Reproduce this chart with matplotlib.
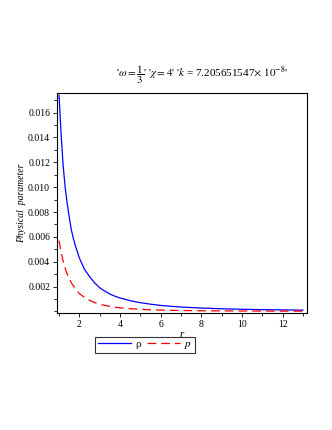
import matplotlib
matplotlib.use("Agg")
import matplotlib.pyplot as plt
from matplotlib.ticker import MultipleLocator

plt.rcParams['font.family'] = ['Liberation Serif', 'DejaVu Serif']
plt.rcParams['mathtext.fontset'] = 'stix'

# values
r = [1, 1.1, 1.2, 1.3, 1.4, 1.5, 1.6, 1.7, 1.8, 1.9, 2, 2.25, 2.5, 2.75, 3,
     3.25, 3.5, 3.75, 4, 4.5, 5, 5.5, 6, 6.5, 7, 8, 9, 10, 11, 12, 13]
rho = [0.0174, 0.0143, 0.0118, 0.0100, 0.0087, 0.0076, 0.0066, 0.0059,
       0.0053, 0.0048, 0.0043, 0.0034, 0.0028, 0.0023, 0.0019, 0.00163,
       0.0014, 0.00122, 0.00108, 0.00086, 0.0007, 0.00058, 0.00048, 0.00041,
       0.00035, 0.00027, 0.00021, 0.00017, 0.00014, 0.00012, 0.0001]
p = [0.0057, 0.00478, 0.00406, 0.00348, 0.00301, 0.00264, 0.00231, 0.00207,
     0.00186, 0.00163, 0.00143, 0.00113, 0.00089, 0.00071, 0.00058, 0.00048,
     0.0004, 0.00034, 0.00029, 0.00022, 0.00017, 0.00013, 0.0001, 0.000085,
     0.00007, 0.00005, 0.00004, 0.00003, 0.000025, 0.00002, 0.000015]
xticks = [2, 4, 6, 8, 10, 12]
yticks = [0.002, 0.004, 0.006, 0.008, 0.010, 0.012, 0.014, 0.016]

fig = plt.figure(figsize=(3.32, 4.30), dpi=100)
ax = fig.add_axes([57 / 332, 1 - 313 / 430, 250 / 332, 220 / 430])

ax.plot(r, rho, color='#0000ff', lw=0.9, label='ρ')
ax.plot(r, p, color='#ff0000', lw=0.9, dashes=(7, 4), label=r'$p$')

ax.set_xlim(0.9, 13.2)
ax.set_ylim(-0.00013, 0.01758)
ax.set_xticks(xticks)
ax.set_yticks(yticks)
ax.set_yticklabels(['%.3f' % v for v in yticks])
ax.xaxis.set_minor_locator(MultipleLocator(1))
ax.yaxis.set_minor_locator(MultipleLocator(0.001))
ax.tick_params(which='both', direction='out', top=False, right=False,
               labelsize=7, width=0.6, pad=2)
ax.tick_params(which='major', length=3)
ax.tick_params(which='minor', length=2)
for s in ax.spines.values():
    s.set_linewidth(0.8)

ax.set_xlabel('r', style='italic', fontsize=8, labelpad=1)
fig.text(22 / 332, 1 - 203 / 430, 'Physical  parameter', rotation=90,
         style='italic', fontsize=7, ha='center', va='center')

fig.text(202 / 332, 1 - 75 / 430,
         r"'$\omega = \dfrac{1}{3}$' '$\chi = 4$' '$k$ = 7.205651547$\times$ $10^{-8}$'",
         fontsize=8, ha='center', va='center')

leg = fig.legend(loc='center', bbox_to_anchor=(145 / 332, 1 - 345 / 430),
                 ncol=2, fontsize=8, frameon=True, fancybox=False,
                 handlelength=3.0, columnspacing=0.5, handletextpad=0.4,
                 borderpad=0.2, borderaxespad=0)
leg.get_frame().set_edgecolor('black')
leg.get_frame().set_linewidth(0.8)

fig.savefig('out.png', dpi=100)
